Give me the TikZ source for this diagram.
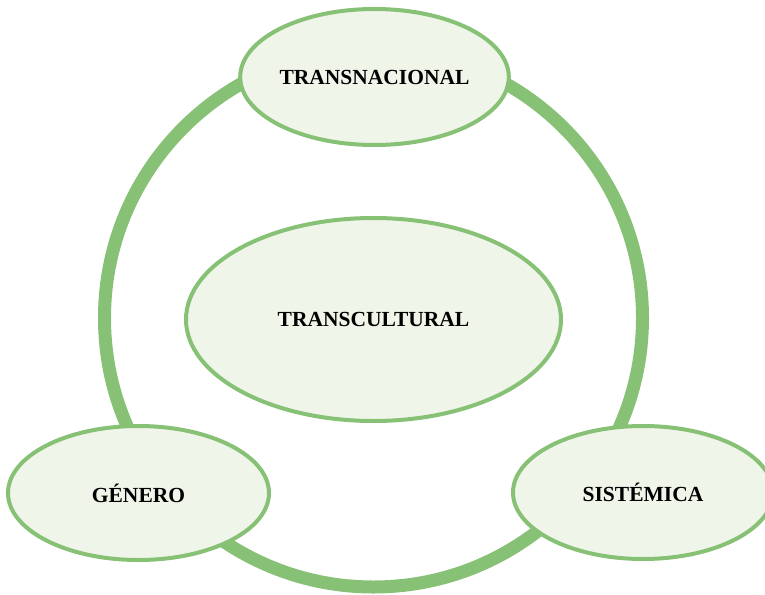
\documentclass[tikz,border=0pt]{standalone}
\usepackage{fontspec}
\setmainfont{Liberation Serif}
\usetikzlibrary{shapes.geometric}
\definecolor{ringgreen}{RGB}{135,193,117}
\definecolor{ellfill}{RGB}{239,245,233}
\tikzset{
  bubble/.style={ellipse, draw=ringgreen, fill=ellfill, line width=4pt, inner sep=0pt,
    font=\fontsize{21.5}{25}\selectfont\bfseries},
  ringstyle/.style={circle, draw=ringgreen, line width=13pt, inner sep=0pt, minimum size=538pt}
}
\begin{document}
\begin{tikzpicture}[x=1pt,y=-1pt]
\useasboundingbox (0,0) rectangle (765,594);
\clip (0,0) rectangle (765,594);
\node[ringstyle] (ring) at (373.5,318) {};
\node[bubble, minimum width=261pt, minimum height=136pt] (trans) at (374.5,77) {TRANSNACIONAL};
\node[bubble, minimum width=375pt, minimum height=203pt] (cult) at (373.5,319.5) {TRANSCULTURAL};
\node[bubble, minimum width=261pt, minimum height=134pt] (gen) at (138.5,493) {GÉNERO};
\node[bubble, minimum width=260pt, minimum height=133pt] (sis) at (643,492.5) {SISTÉMICA};
\end{tikzpicture}
\end{document}
